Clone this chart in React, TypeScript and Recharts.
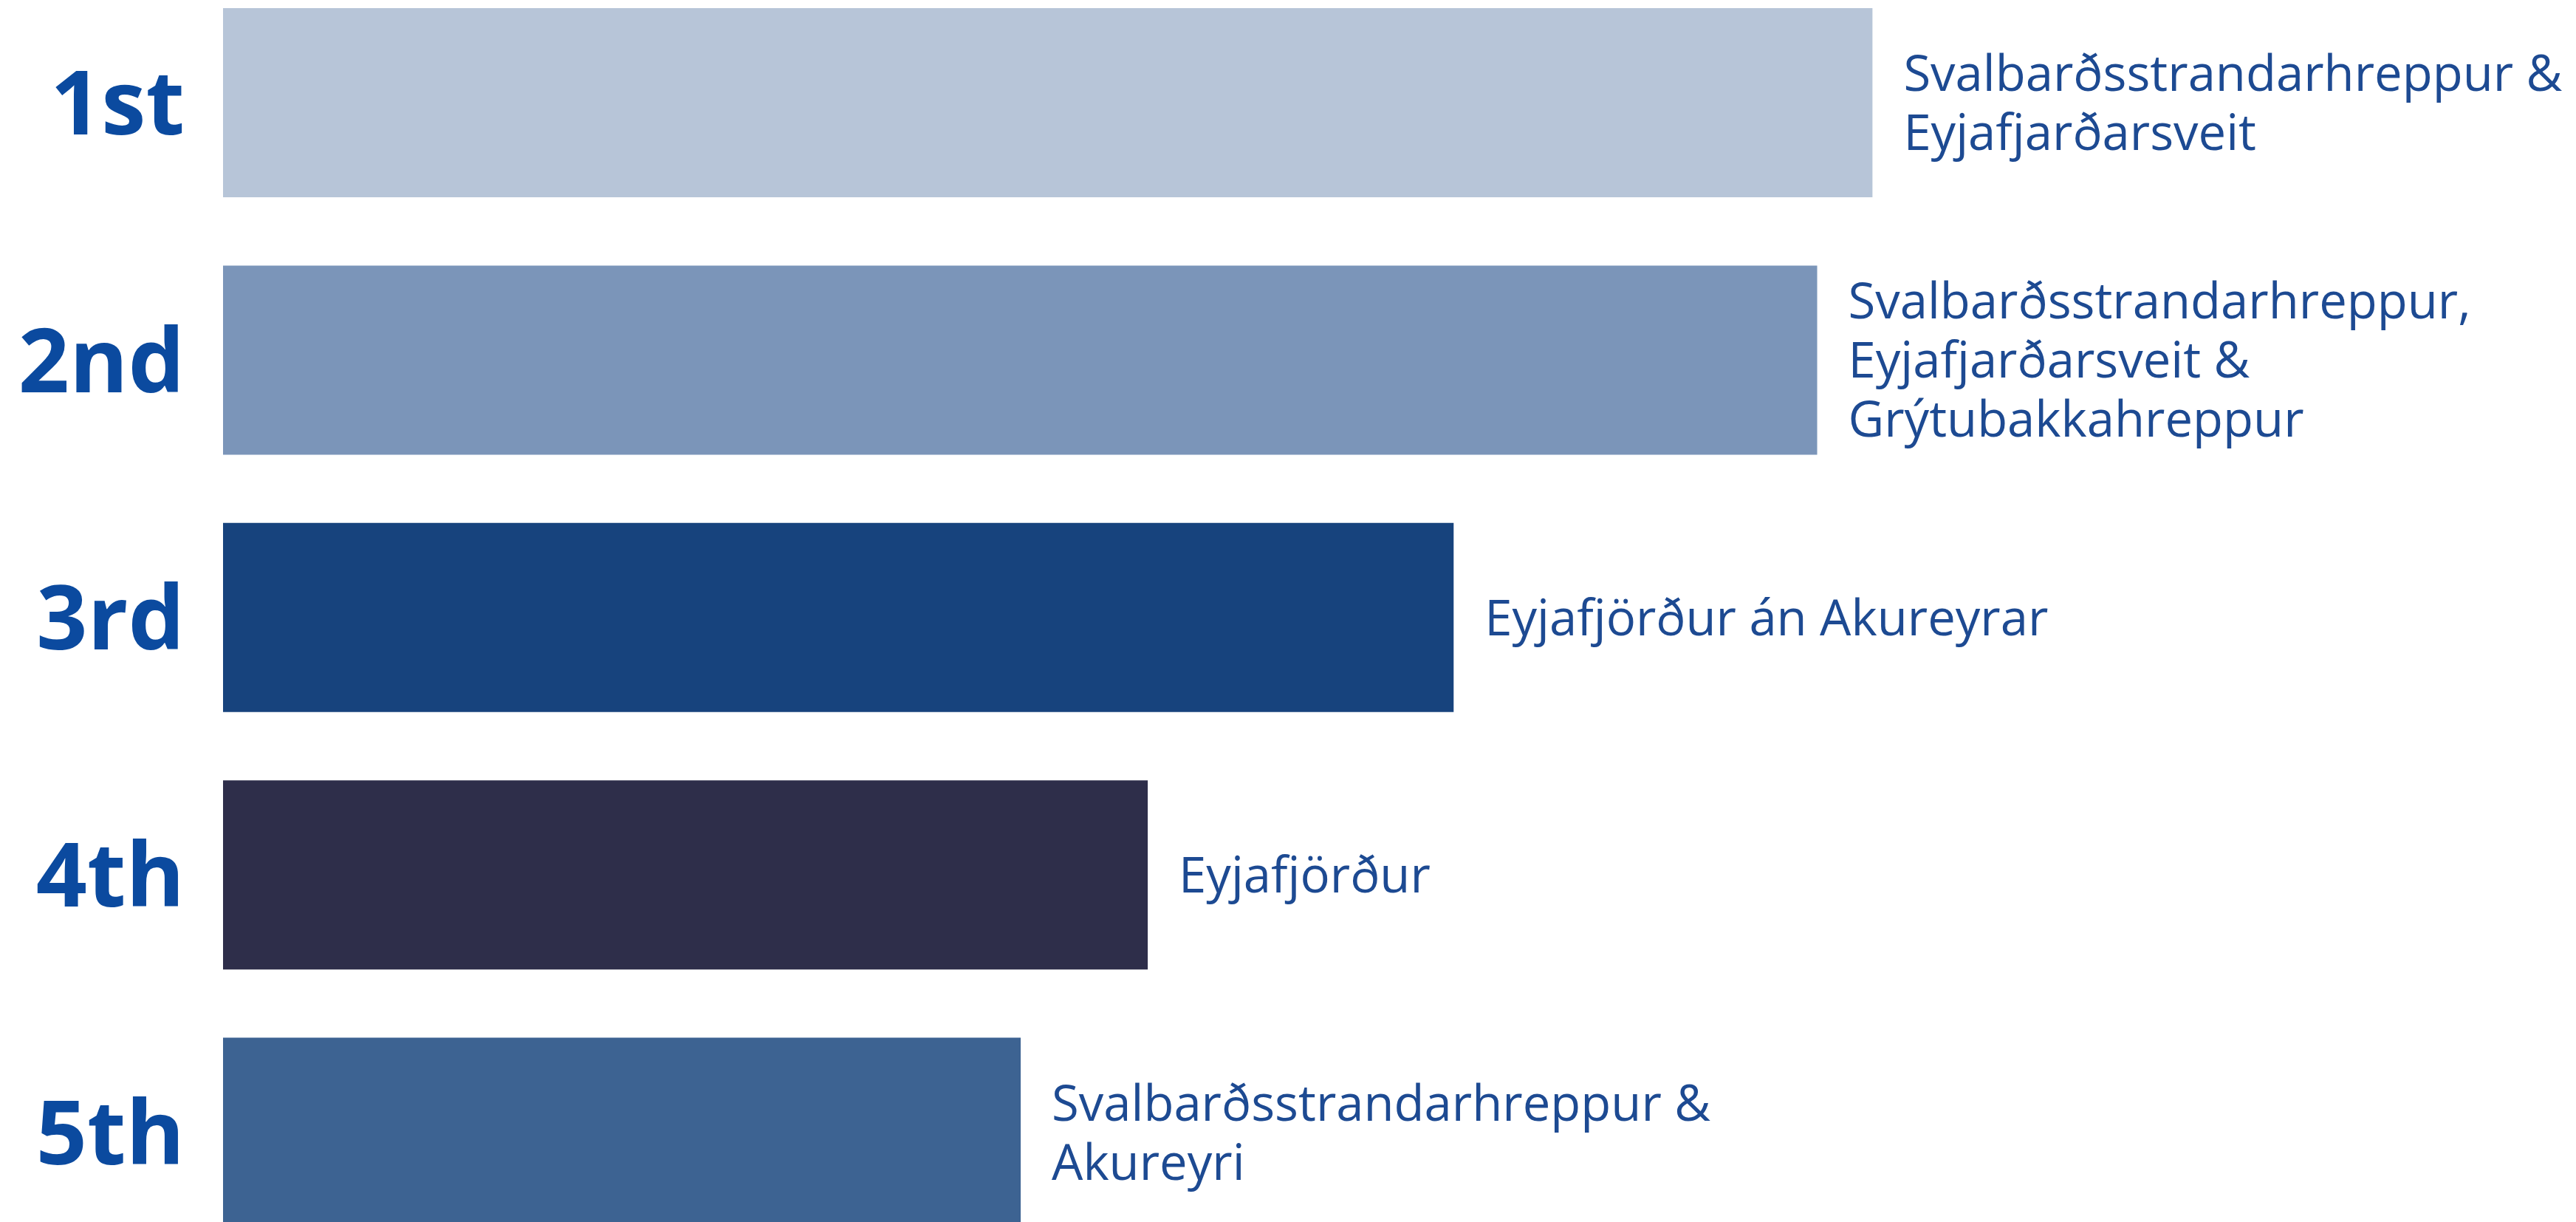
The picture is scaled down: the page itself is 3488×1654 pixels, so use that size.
import React from 'react';
import { BarChart, Bar, XAxis, YAxis, Cell, LabelList } from 'recharts';

const ranks = ['1st', '2nd', '3rd', '4th', '5th'];
const places = [
  'Svalbarðsstrandarhreppur &\nEyjafjarðarsveit',
  'Svalbarðsstrandarhreppur,\nEyjafjarðarsveit &\nGrýtubakkahreppur',
  'Eyjafjörður án Akureyrar',
  'Eyjafjörður',
  'Svalbarðsstrandarhreppur &\nAkureyri',
];
const scores = [70.1, 67.75, 52.3, 39.3, 33.9];
const barColors = ['#b7c5d8', '#7b95b9', '#17437d', '#2e2e4a', '#3d6392'];

const data = ranks.map((rank, i) => ({ rank, place: places[i], score: scores[i] }));

const FONT = '"Open Sans", "Noto Sans", sans-serif';

function RankTick(props: any) {
  const { x, y, payload } = props;
  return (
    <text
      x={x}
      y={y}
      dy={43}
      textAnchor="end"
      fill="#0b4a9f"
      fontFamily={FONT}
      fontWeight={700}
      fontSize={121}
    >
      {payload.value}
    </text>
  );
}

function PlaceLabel(props: any) {
  const { x, y, width, height, value } = props;
  const lines = String(value).split('\n');
  const cx = x + width + 42;
  const cy = y + height / 2;
  const pitch = 80;
  const cap = 48;
  return (
    <text fill="#1d4a92" fontFamily={FONT} fontSize={67} textAnchor="start">
      {lines.map((line, i) => (
        <tspan key={i} x={cx} y={cy + cap / 2 + (i - (lines.length - 1) / 2) * pitch}>
          {line}
        </tspan>
      ))}
    </text>
  );
}

export default function App() {
  return (
    <div
      style={{
        position: 'absolute',
        left: 0,
        top: 0,
        width: 3488,
        height: 1654,
        overflow: 'hidden',
        background: '#ffffff',
      }}
    >
      <div style={{ marginTop: -35 }}>
        <BarChart
          width={3488}
          height={1742}
          data={data}
          layout="vertical"
          margin={{ top: 0, right: 0, bottom: 0, left: 0 }}
        >
          <XAxis type="number" domain={[0, 100]} hide />
          <YAxis
            type="category"
            dataKey="rank"
            width={302}
            axisLine={false}
            tickLine={false}
            tickSize={0}
            tickMargin={52}
            tick={<RankTick />}
            interval={0}
          />
          <Bar dataKey="score" barSize={256} isAnimationActive={false}>
            {data.map((d, i) => (
              <Cell key={d.rank} fill={barColors[i]} />
            ))}
            <LabelList dataKey="place" content={<PlaceLabel />} />
          </Bar>
        </BarChart>
      </div>
    </div>
  );
}
